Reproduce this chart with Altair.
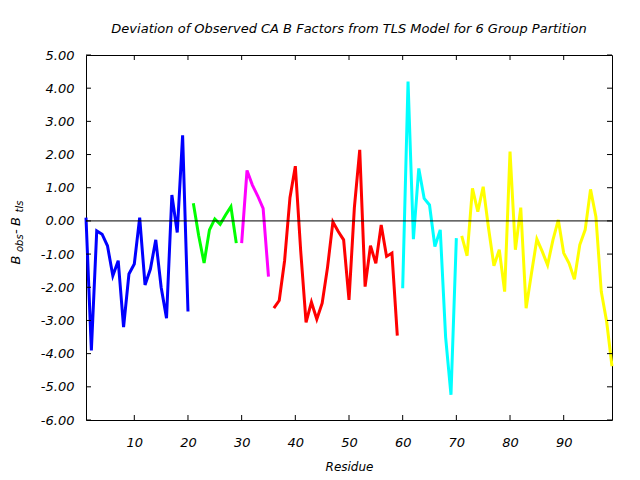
import altair as alt
import pandas as pd

# ---- data ----
segment_names = ["Segment 1", "Segment 2", "Segment 3", "Segment 4", "Segment 5", "Segment 6"]
segment_colors = ["#0000ff", "#00ff00", "#ff00ff", "#ff0000", "#00ffff", "#ffff00"]
segment_first_residue = [1, 21, 30, 36, 60, 71]

seg1_vals = [0.10, -3.90, -0.30, -0.40, -0.75, -1.65, -1.20, -3.20, -1.60, -1.30,
             0.10, -1.93, -1.45, -0.57, -2.00, -2.93, 0.78, -0.35, 2.58, -2.73]
seg2_vals = [0.53, -0.45, -1.27, -0.27, 0.06, -0.10, 0.18, 0.43, -0.67]
seg3_vals = [-0.67, 1.52, 1.08, 0.75, 0.38, -1.68]
seg4_vals = [-2.63, -2.40, -1.20, 0.70, 1.65, -0.90, -3.06, -2.45, -2.96, -2.48,
             -1.40, -0.03, -0.32, -0.57, -2.38, 0.40, 2.14, -1.98, -0.75, -1.28,
             -0.12, -1.07, -0.97, -3.46]
seg5_vals = [-2.03, 4.20, -0.55, 1.58, 0.68, 0.48, -0.77, -0.27, -3.50, -5.24, -0.52]
seg6_vals = [-0.45, -1.05, 0.98, 0.28, 1.03, -0.22, -1.35, -0.87, -2.13, 2.09,
             -0.87, 0.40, -2.63, -1.58, -0.55, -0.92, -1.33, -0.57, 0.03, -0.97,
             -1.28, -1.76, -0.72, -0.27, 0.95, 0.13, -2.13, -3.03, -4.38]

x_ticks = [10, 20, 30, 40, 50, 60, 70, 80, 90]
y_ticks = [-6, -5, -4, -3, -2, -1, 0, 1, 2, 3, 4, 5]
x_domain = [1, 99]
y_domain = [-6, 5]

title_text = "Deviation of Observed CA B Factors from TLS Model for 6 Group Partition"

# ---- build table ----
rows = []
all_vals = [seg1_vals, seg2_vals, seg3_vals, seg4_vals, seg5_vals, seg6_vals]
for name, start, vals in zip(segment_names, segment_first_residue, all_vals):
    for i, v in enumerate(vals):
        rows.append({"residue": start + i, "dev": v, "segment": name})
df = pd.DataFrame(rows)

W, H = 526, 365
FONT = "DejaVu Sans"

xscale = alt.Scale(domain=x_domain, nice=False, zero=False)
yscale = alt.Scale(domain=y_domain, nice=False, zero=False)

xaxis = alt.Axis(values=x_ticks, title="Residue", labelPadding=16,
                 titlePadding=12, titleFontSize=12)
yaxis = alt.Axis(values=y_ticks, title=None, labelPadding=12,
                 labelExpr="replace(format(datum.value, '.2f'), '\u2212', '-')")

lines = alt.Chart(df).mark_line(strokeWidth=3).encode(
    x=alt.X("residue:Q", scale=xscale, axis=xaxis),
    y=alt.Y("dev:Q", scale=yscale, axis=yaxis),
    color=alt.Color("segment:N",
                    scale=alt.Scale(domain=segment_names, range=segment_colors),
                    legend=None),
    detail="segment:N",
)

zero_line = alt.Chart(pd.DataFrame({"z": [0]})).mark_rule(color="black", strokeWidth=1).encode(
    y=alt.Y("z:Q", scale=yscale, axis=yaxis)
)

ytick_df = pd.DataFrame({"v": y_ticks})
xtick_df = pd.DataFrame({"v": x_ticks})
TL = 5
left_ticks = alt.Chart(ytick_df).mark_rule(color="black", strokeWidth=1).encode(
    y=alt.Y("v:Q", scale=yscale, axis=yaxis), x=alt.value(0), x2=alt.value(TL))
right_ticks = alt.Chart(ytick_df).mark_rule(color="black", strokeWidth=1).encode(
    y=alt.Y("v:Q", scale=yscale, axis=yaxis), x=alt.value(W - TL), x2=alt.value(W))
bottom_ticks = alt.Chart(xtick_df).mark_rule(color="black", strokeWidth=1).encode(
    x=alt.X("v:Q", scale=xscale, axis=xaxis), y=alt.value(H - TL), y2=alt.value(H))
top_ticks = alt.Chart(xtick_df).mark_rule(color="black", strokeWidth=1).encode(
    x=alt.X("v:Q", scale=xscale, axis=xaxis), y=alt.value(0), y2=alt.value(TL))


def label_part(text, x, y, size):
    return alt.Chart(alt.Data(values=[{}])).mark_text(
        angle=270, align="left", baseline="alphabetic", font=FONT,
        fontStyle="italic", fontSize=size, color="black"
    ).encode(x=alt.value(x), y=alt.value(y), text=alt.value(text))


ylabel = [
    label_part("B", -66, 209.5, 13),
    label_part("obs", -63.5, 197, 10),
    label_part("-", -66, 179, 13),
    label_part("B", -66, 171, 13),
    label_part("tls", -63.5, 157.5, 10),
]

chart = alt.layer(
    lines, zero_line, left_ticks, right_ticks, bottom_ticks, top_ticks, *ylabel
).properties(
    width=W, height=H,
    autosize=alt.AutoSizeParams(type="none"),
    padding={"left": 78, "top": 47, "right": 20, "bottom": 52},
    title=alt.TitleParams(text=title_text, font=FONT, fontStyle="italic",
                          fontWeight="normal", fontSize=13, color="black",
                          anchor="middle", offset=13),
).configure_view(
    stroke="black", strokeWidth=1
).configure_axis(
    domain=False, grid=False, ticks=False, tickSize=0,
    labelFont=FONT, labelFontStyle="italic", labelFontSize=13, labelColor="black",
    titleFont=FONT, titleFontStyle="italic", titleFontWeight="normal",
    titleFontSize=13, titleColor="black",
)

chart.save("out.html", embed_options={"renderer": "svg", "actions": False})
